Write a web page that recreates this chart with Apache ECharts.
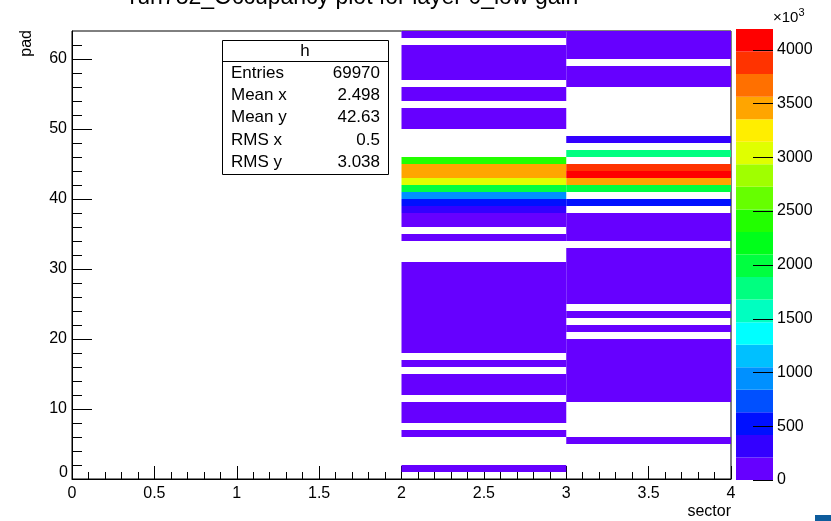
<!DOCTYPE html>
<html><head><meta charset="utf-8">
<script src="https://cdn.jsdelivr.net/npm/echarts@6/dist/echarts.min.js"></script>
<style>html,body{margin:0;padding:0;background:#fff}#c{width:831px;height:521px}</style>
</head><body><div id="c"></div>
<script>
// ---- data (values in units of 10^3) ----
const titleText = 'run782_Occupancy plot for layer 0_low gain';
const sectorIds = [2, 3];
// content per pad (index 0..63), 0 = empty bin
const sector2 = [
  0, 60, 0, 0, 0, 0, 60, 0, 60, 60,
  60, 0, 60, 60, 60, 0, 60, 0, 60, 60,
  60, 60, 60, 60, 60, 60, 60, 60, 60, 60,
  60, 0, 0, 0, 60, 0, 60, 60, 300, 500,
  950, 2000, 3000, 3500, 3500, 2400, 0, 0, 0, 0,
  60, 60, 60, 0, 60, 60, 0, 60, 60, 60,
  60, 60, 0, 60
];
const sector3 = [
  0, 0, 0, 0, 0, 60, 0, 0, 0, 0,
  0, 60, 60, 60, 60, 60, 60, 60, 60, 60,
  0, 60, 0, 60, 0, 60, 60, 60, 60, 60,
  60, 60, 60, 0, 60, 60, 60, 60, 0, 500,
  0, 2000, 3500, 4100, 3900, 0, 1800, 0, 300, 0,
  0, 0, 0, 0, 0, 0, 60, 60, 60, 0,
  60, 60, 60, 60
];
const zLevels = [0, 209.6, 419.2, 628.8, 838.4, 1048, 1257.6, 1467.2, 1676.8, 1886.4,
  2096, 2305.6, 2515.2, 2724.8, 2934.4, 3144, 3353.6, 3563.2, 3772.8, 3982.4, 4192];
const palette = ['#6600ff', '#3300ff', '#0010ff', '#0050ff', '#0090ff', '#00c0ff', '#00ffff',
  '#00ffc0', '#00ff80', '#00ff40', '#00ff1a', '#22ff00', '#66ff00', '#a0ff00', '#e0ff00',
  '#ffee00', '#ffa500', '#ff7000', '#ff3300', '#ff0000'];
const yMajorTicks = [0, 10, 20, 30, 40, 50, 60];
const yMinorTicks = [0, 2, 4, 6, 8, 10, 12, 14, 16, 18, 20, 22, 24, 26, 28, 30, 32, 34, 36, 38,
  40, 42, 44, 46, 48, 50, 52, 54, 56, 58, 60, 62];
const zTicks = [0, 500, 1000, 1500, 2000, 2500, 3000, 3500, 4000];
const statsRows = [['Entries', '69970'], ['Mean x', '2.498'], ['Mean y', '42.63'], ['RMS x', '0.5'], ['RMS y', '3.038']];

// ---- build ----
const cells = [];
[sector2, sector3].forEach((arr, k) => {
  arr.forEach((v, pad) => { if (v > 0) cells.push([sectorIds[k], pad, v]); });
});
const bands = [];
for (let i = 0; i < palette.length; i++) bands.push([0, zLevels[i], zLevels[i + 1], i]);
const zTickData = zTicks.map(v => [1, v]);
const pieces = palette.map((c, i) => ({ gte: zLevels[i], lt: zLevels[i + 1], color: c }));
pieces[pieces.length - 1].lte = zLevels[zLevels.length - 1];
delete pieces[pieces.length - 1].lt;

const FONT = '"Liberation Sans", Arial, Helvetica, sans-serif';
const chart = echarts.init(document.getElementById('c'), null, { renderer: 'canvas' });
const statsGraphics = [
  { type: 'rect', shape: { x: 222.5, y: 40.5, width: 166, height: 134 }, style: { fill: '#fff', stroke: '#000', lineWidth: 1 } },
  { type: 'line', shape: { x1: 222.5, y1: 61.5, x2: 388.5, y2: 61.5 }, style: { stroke: '#000', lineWidth: 1 } },
  { type: 'text', x: 305, y: 51, style: { text: 'h', font: '17px ' + FONT, fill: '#000', align: 'center', verticalAlign: 'middle' } }
];
statsRows.forEach((r, i) => {
  const yy = 73 + i * 22.4;
  statsGraphics.push({ type: 'text', x: 231, y: yy, style: { text: r[0], font: '17px ' + FONT, fill: '#000', align: 'left', verticalAlign: 'middle' } });
  statsGraphics.push({ type: 'text', x: 380, y: yy, style: { text: r[1], font: '17px ' + FONT, fill: '#000', align: 'right', verticalAlign: 'middle' } });
});

const axisLabelStyle = { color: '#000', fontSize: 16, fontFamily: FONT };
chart.setOption({
  animation: false,
  backgroundColor: '#fff',
  grid: [
    { left: 72, right: 100, top: 31, bottom: 42, show: true, borderColor: '#000', borderWidth: 1, backgroundColor: 'transparent' },
    { left: 736, right: 58, top: 29, bottom: 41 }
  ],
  xAxis: [
    { type: 'value', gridIndex: 0, min: 0, max: 4, interval: 0.5,
      axisLine: { show: true, lineStyle: { color: '#000', width: 1 } },
      axisTick: { show: true, inside: true, length: 13, lineStyle: { color: '#000' } },
      minorTick: { show: true, splitNumber: 5, length: 7, lineStyle: { color: '#000' } },
      splitLine: { show: false }, minorSplitLine: { show: false },
      axisLabel: Object.assign({ margin: 7 }, axisLabelStyle) },
    { type: 'value', gridIndex: 1, min: 0, max: 1, show: false }
  ],
  yAxis: [
    { type: 'value', gridIndex: 0, min: 0, max: 64, interval: 10, position: 'left',
      axisLine: { show: true, lineStyle: { color: '#000', width: 1 } },
      axisTick: { show: true, inside: true, length: 20, customValues: yMajorTicks, lineStyle: { color: '#000' } },
      splitLine: { show: false },
      axisLabel: Object.assign({ margin: 5, customValues: yMajorTicks.slice(1) }, axisLabelStyle) },
    { type: 'value', gridIndex: 0, min: 0, max: 64, interval: 2, position: 'left',
      axisLine: { show: false },
      axisTick: { show: true, inside: true, length: 10, customValues: yMinorTicks, lineStyle: { color: '#000' } },
      splitLine: { show: false }, axisLabel: { show: false } },
    { type: 'value', gridIndex: 1, min: 0, max: 4192, interval: 500, position: 'right',
      axisLine: { show: false },
      axisTick: { show: false },
      splitLine: { show: false },
      axisLabel: Object.assign({ margin: 4, showMaxLabel: false, formatter: v => String(v) }, axisLabelStyle) }
  ],
  visualMap: { type: 'piecewise', show: false, seriesIndex: 0, dimension: 2, pieces: pieces },
  series: [
    { type: 'custom', xAxisIndex: 0, yAxisIndex: 0, data: cells, encode: { x: 0, y: 1 }, clip: true,
      renderItem: (params, api) => {
        const x = api.value(0), y = api.value(1);
        const p0 = api.coord([x, y + 1]);
        const p1 = api.coord([x + 1, y]);
        return { type: 'rect', shape: { x: p0[0], y: p0[1], width: p1[0] - p0[0], height: p1[1] - p0[1] },
          style: { fill: api.visual('color'), stroke: null } };
      } },
    { type: 'custom', xAxisIndex: 1, yAxisIndex: 2, data: bands, encode: { x: 0, y: [1, 2] }, silent: true,
      renderItem: (params, api) => {
        const p0 = api.coord([0, api.value(2)]);
        const p1 = api.coord([1, api.value(1)]);
        return { type: 'rect', shape: { x: p0[0], y: p0[1], width: p1[0] - p0[0], height: p1[1] - p0[1] },
          style: { fill: palette[api.value(3)], stroke: null } };
      } },
    // colour-scale tick marks (inside the bar, from its right edge)
    { type: 'custom', xAxisIndex: 1, yAxisIndex: 2, data: zTickData, encode: { x: 0, y: 1 }, silent: true, z: 5,
      renderItem: (params, api) => {
        const p = api.coord([api.value(0), api.value(1)]);
        const y = Math.round(p[1]) + 0.5;
        return { type: 'line', shape: { x1: p[0] - 20, y1: y, x2: p[0], y2: y }, style: { stroke: '#000', lineWidth: 1 } };
      } }
  ],
  graphic: [
    { type: 'text', x: 354, y: 9, style: { text: titleText, font: '23px ' + FONT, fill: '#000', align: 'center', verticalAlign: 'bottom' } },
    { type: 'text', x: 731, y: 512, style: { text: 'sector', font: '16px ' + FONT, fill: '#000', align: 'right', verticalAlign: 'middle' } },
    { type: 'text', x: 27, y: 30, rotation: Math.PI / 2, style: { text: 'pad', font: '16px ' + FONT, fill: '#000', align: 'right', verticalAlign: 'middle' } },
    { type: 'text', x: 68, y: 473, style: { text: '0', font: '16px ' + FONT, fill: '#000', align: 'right', verticalAlign: 'middle' } },
    { type: 'text', x: 773, y: 18, style: { rich: { a: { font: '15px ' + FONT, fill: '#000' }, b: { font: '11px ' + FONT, fill: '#000', verticalAlign: 'top', padding: [0, 0, 10, 0] } }, text: '{a|\u00d710}{b|3}', fill: '#000', align: 'left', verticalAlign: 'middle' } },
    { type: 'rect', shape: { x: 815, y: 515, width: 16, height: 6 }, style: { fill: '#0e5c9c' } }
  ].concat(statsGraphics)
});
</script>
</body></html>
